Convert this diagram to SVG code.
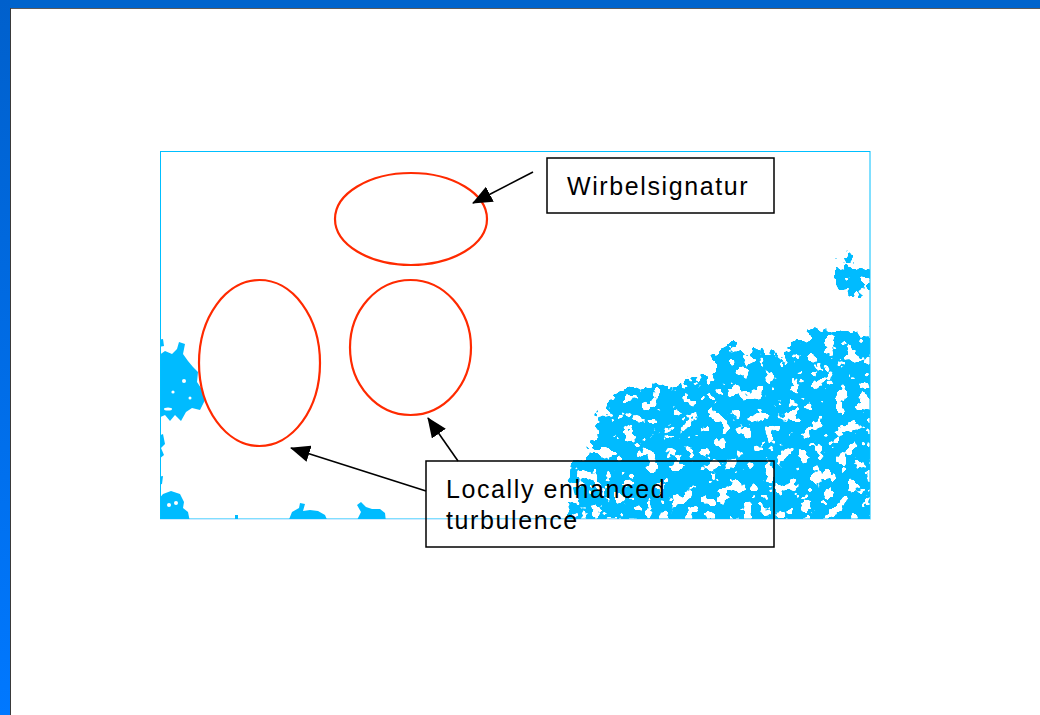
<svg xmlns="http://www.w3.org/2000/svg" width="1040" height="715" viewBox="0 0 1040 715">
  <defs>
    <linearGradient id="sideBar" x1="0" y1="0" x2="0" y2="1">
      <stop offset="0" stop-color="#0060cc"/>
      <stop offset="1" stop-color="#0078ff"/>
    </linearGradient>
    <filter id="turb" filterUnits="userSpaceOnUse" x="160" y="151" width="711" height="368" color-interpolation-filters="sRGB">
      <feGaussianBlur in="SourceAlpha" stdDeviation="7" result="b"/>
      <feTurbulence type="fractalNoise" baseFrequency="0.085" numOctaves="3" seed="7" result="n"/>
      <feColorMatrix in="n" type="matrix" values="0 0 0 0 0  0 0 0 0 0  0 0 0 0 0  1 0 0 0 0" result="na"/>
      <feComposite in="b" in2="na" operator="arithmetic" k1="0" k2="1" k3="1" k4="-1.39" result="s"/>
      <feComponentTransfer in="s" result="t">
        <feFuncA type="linear" slope="40" intercept="0"/>
      </feComponentTransfer>
      <feFlood flood-color="#00bbff" result="f"/>
      <feComposite in="f" in2="t" operator="in"/>
    </filter>
    <clipPath id="frameClip">
      <rect x="160" y="151" width="710" height="368"/>
    </clipPath>
    <marker id="arrow" markerUnits="userSpaceOnUse" markerWidth="20" markerHeight="17" viewBox="0 0 20 17" refX="19" refY="8.5" orient="auto">
      <path d="M0,0 L20,8.5 L0,17 Z" fill="#000"/>
    </marker>
    <style>
      .ring { fill: none; stroke: #ff2a00; stroke-width: 2.2; }
      .box { fill: none; stroke: #000; stroke-width: 1.5; }
      .lbl { font-family: "Liberation Sans", Arial, sans-serif; font-size: 25px; letter-spacing: 1.6px; fill: #000; }
      .conn { stroke: #000; stroke-width: 1.6; fill: none; marker-end: url(#arrow); }
      .blob { fill: #00bbff; }
    </style>
  </defs>

  <rect x="0" y="0" width="1040" height="715" fill="#ffffff"/>

  <g id="window-frame">
    <rect x="0" y="0" width="1040" height="8" fill="#0064cc"/>
    <rect x="0" y="0" width="10" height="715" fill="url(#sideBar)"/>
    <line x1="10" y1="8.5" x2="1040" y2="8.5" stroke="#5a5a5a" stroke-width="1"/>
    <line x1="10.5" y1="8" x2="10.5" y2="715" stroke="#3a3a3a" stroke-width="1"/>
  </g>

  <g id="turbulence-field" clip-path="url(#frameClip)">
    <g filter="url(#turb)">
      <path d="M562 530 L565 466 L579 446 L589 432 L590 408 L603 395 L617 383 L640 377 L660 379 L680 379 L688 371 L702 366 L710 352 L716 340 L740 336 L758 344 L775 345 L789 340 L794 330 L805 320 L825 320 L834 329 L849 325 L860 323 L869 311 L880 311 L880 530 Z"/>
      <path d="M827 247 L846 241 L854 252 L862 258 L880 254 L880 304 L860 303 L845 299 L832 293 L828 270 Z"/>
    </g>
    <g class="blob">
      <path d="M158 356 L165 351 L172 354 L177 349 L179 342 L185 344 L183 354 L188 361 L193 367 L198 372 L197 382 L203 391 L205 400 L200 410 L192 408 L186 412 L181 421 L175 415 L170 421 L165 415 L158 418 Z"/>
      <path d="M158 340 L163 339 L164 346 L158 347 Z"/>
      <path d="M158 436 L163 434 L165 444 L161 448 L164 455 L158 460 Z"/>
      <path d="M158 477 L163 476 L162 484 L158 485 Z"/>
      <path d="M158 500 L163 494 L171 491 L180 494 L184 502 L183 508 L188 512 L190 522 L158 522 Z"/>
      <path d="M288 522 L292 512 L299 508 L300 503 L305 504 L303 511 L310 510 L318 511 L325 515 L328 522 Z"/>
      <path d="M356 522 L361 512 L357 505 L361 502 L366 507 L372 509 L380 509 L385 513 L386 522 Z"/>
      <path d="M235 515 L238 515 L238 522 L235 522 Z"/>
    </g>
    <g fill="#ffffff">
      <circle cx="169" cy="505" r="2"/>
      <circle cx="176" cy="503" r="2"/>
      <circle cx="184" cy="381" r="2"/>
      <circle cx="173" cy="392" r="1.6"/>
      <ellipse cx="168" cy="409" rx="4" ry="1.5"/>
      <circle cx="190" cy="398" r="1.5"/>
    </g>
  </g>

  <rect id="plot-frame" x="160.5" y="151.5" width="709.5" height="367.5" fill="none" stroke="#00bfff" stroke-width="1"/>
  <line x1="160" y1="519.5" x2="870" y2="519.5" stroke="#cfeaff" stroke-width="1"/>

  <g id="vortex-top"><ellipse class="ring" cx="411" cy="219" rx="76" ry="46"/></g>
  <g id="turb-left"><ellipse class="ring" cx="259.5" cy="363" rx="60.5" ry="83"/></g>
  <g id="turb-middle"><ellipse class="ring" cx="410.5" cy="347.5" rx="60.5" ry="67.5"/></g>

  <g id="connectors">
    <line class="conn" x1="533" y1="172" x2="473" y2="203"/>
    <line class="conn" x1="426" y1="491" x2="291" y2="448"/>
    <line class="conn" x1="458" y1="461" x2="428" y2="418"/>
  </g>

  <g id="label-wirbel">
    <rect class="box" x="547" y="158" width="227" height="55"/>
    <text class="lbl" x="567" y="195">Wirbelsignatur</text>
  </g>

  <g id="label-turbulence">
    <rect class="box" x="426" y="461" width="348" height="86"/>
    <text class="lbl" x="446" y="498">Locally enhanced</text>
    <text class="lbl" x="446" y="529">turbulence</text>
  </g>
</svg>
